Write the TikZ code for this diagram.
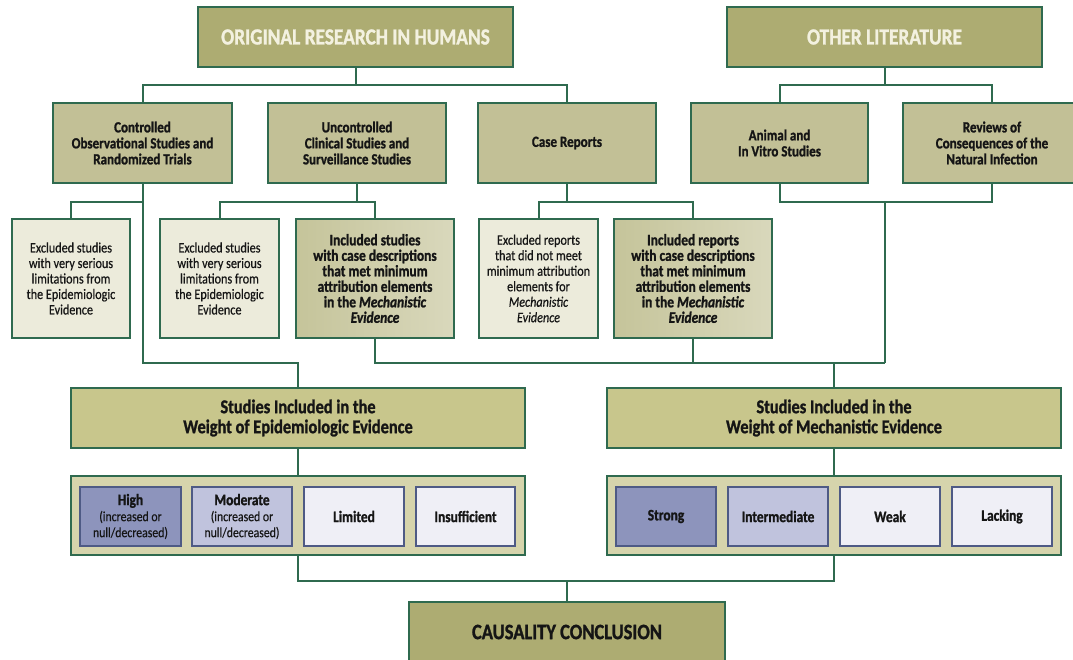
\documentclass[tikz,border=0pt]{standalone}
\usepackage{fontspec}
\setmainfont[FakeStretch=0.84, FakeBold=0.5, BoldFeatures={FakeBold=1.2}, BoldItalicFeatures={FakeBold=1.2}]{Carlito}
\definecolor{bd}{HTML}{2F6A4F}
\definecolor{ibd}{HTML}{4E5A85}
\definecolor{txt}{HTML}{151515}
\definecolor{hdrfill}{HTML}{ADAC72}
\definecolor{rowfill}{HTML}{C2C096}
\definecolor{wfill}{HTML}{C8C68C}
\definecolor{bandfill}{HTML}{D6D4AC}
\definecolor{exfill}{HTML}{ECEBDB}
\definecolor{inL}{HTML}{C5C49A}
\definecolor{inR}{HTML}{D9D8BC}
\definecolor{lvA}{HTML}{8D94BC}
\definecolor{lvB}{HTML}{C0C3DD}
\definecolor{lvC}{HTML}{EFEFF6}
\definecolor{hdtext}{HTML}{F3F1E0}
\newcommand\subtxt{\fontsize{14}{16}\selectfont\mdseries}
\begin{document}
\begin{tikzpicture}[x=1pt,y=-1pt,
  box/.style={draw=bd, line width=2.4pt, inner sep=0pt, align=center, text=txt},
  hdr/.style={box, fill=hdrfill, text=hdtext, minimum width=315pt, minimum height=60pt,
    font=\fontsize{23}{25}\selectfont\bfseries},
  rowbox/.style={box, fill=rowfill, minimum height=80pt,
    font=\fontsize{15.5}{16}\selectfont\bfseries},
  exbox/.style={box, fill=exfill, minimum width=119pt, minimum height=119pt,
    font=\fontsize{14.5}{15.5}\selectfont},
  inbox/.style={box, left color=inL, right color=inR, minimum width=158pt, minimum height=119pt,
    font=\fontsize{16}{15.5}\selectfont\bfseries},
  wbox/.style={box, fill=wfill, minimum width=454pt, minimum height=60pt,
    font=\fontsize{19.5}{20}\selectfont\bfseries},
  band/.style={box, fill=bandfill, minimum width=454pt, minimum height=79pt},
  lvbox/.style={draw=ibd, line width=2pt, inner sep=0pt, align=center, text=txt,
    minimum width=100pt, minimum height=59pt, font=\fontsize{16}{16}\selectfont\bfseries},
  conn/.style={draw=bd, line width=2pt}
]
\useasboundingbox (0,0) rectangle (1073,659);
\fill[white] (0,0) rectangle (1073,659);
\clip (0,0) rectangle (1073,659);

% level coordinates
\coordinate (L1) at (0,85);
\coordinate (L2) at (0,202);
\coordinate (L3) at (0,363);
\coordinate (L4) at (0,581);
\coordinate (jr) at (885,202);

% top
\node[hdr] (orh) at (355.5,37) {ORIGINAL RESEARCH IN HUMANS};
\node[hdr] (ol) at (884.5,37) {OTHER LITERATURE};

% row 2
\node[rowbox, minimum width=179pt] (ctrl) at (142.5,143) {Controlled\\Observational Studies and\\Randomized Trials};
\node[rowbox, minimum width=178pt] (unc) at (357,143) {Uncontrolled\\Clinical Studies and\\Surveillance Studies};
\node[rowbox, minimum width=178pt] (case) at (567,143) {Case Reports};
\node[rowbox, minimum width=177pt] (anim) at (779.5,143) {Animal and\\In Vitro Studies};
\node[rowbox, minimum width=178pt] (rev) at (992,143) {Reviews of\\Consequences of the\\Natural Infection};

% row 3
\node[exbox, minimum width=118pt] (ex1) at (71,278.5) {Excluded studies\\with very serious\\limitations from\\the Epidemiologic\\Evidence};
\node[exbox] (ex2) at (219.5,278.5) {Excluded studies\\with very serious\\limitations from\\the Epidemiologic\\Evidence};
\node[inbox] (in1) at (375,278.5) {Included studies\\with case descriptions\\that met minimum\\attribution elements\\in the \textit{Mechanistic}\\\textit{Evidence}};
\node[exbox] (ex3) at (538.5,278.5) {Excluded reports\\that did not meet\\minimum attribution\\elements for\\\textit{Mechanistic}\\\textit{Evidence}};
\node[inbox] (in2) at (693,278.5) {Included reports\\with case descriptions\\that met minimum\\attribution elements\\in the \textit{Mechanistic}\\\textit{Evidence}};

% weight headers
\node[wbox] (epi) at (298,418) {Studies Included in the\\Weight of Epidemiologic Evidence};
\node[wbox] (mech) at (834,418) {Studies Included in the\\Weight of Mechanistic Evidence};

% bands
\node[band] (epiband) at (298,515.5) {};
\node[band] (mechband) at (834,515.5) {};

\node[lvbox, fill=lvA, minimum width=101pt] (high) at (130.5,516.5) {High\\{\subtxt(increased or}\\{\subtxt null/decreased)}};
\node[lvbox, fill=lvB] (mod) at (242,516.5) {Moderate\\{\subtxt(increased or}\\{\subtxt null/decreased)}};
\node[lvbox, fill=lvC] (lim) at (354,516.5) {Limited};
\node[lvbox, fill=lvC, minimum width=99pt] (insuf) at (465.5,516.5) {Insufficient};

\node[lvbox, fill=lvA] (strong) at (666,516.5) {Strong};
\node[lvbox, fill=lvB] (inter) at (778,516.5) {Intermediate};
\node[lvbox, fill=lvC] (weak) at (890,516.5) {Weak};
\node[lvbox, fill=lvC] (lack) at (1002,516.5) {Lacking};

% conclusion
\node[box, fill=hdrfill, minimum width=316pt, minimum height=60pt,
  font=\fontsize{22}{24}\selectfont\bfseries] (caus) at (567,632) {CAUSALITY CONCLUSION};

% connectors
\draw[conn] (orh.south) -- (orh.south |- L1);
\draw[conn] (ctrl.north) -- (ctrl.north |- L1) -- (case.north |- L1) -- (case.north);
\draw[conn] (ol.south) -- (ol.south |- L1);
\draw[conn] (anim.north) |- (rev.north |- L1) -- (rev.north);

\draw[conn] (ctrl.south) -- (ctrl.south |- L3) -| (epi.north);
\draw[conn] (ex1.north) |- (ctrl.south |- L2);
\draw[conn] (unc.south) -- (unc.south |- L2);
\draw[conn] (ex2.north) |- (in1.north |- L2) -- (in1.north);
\draw[conn] (case.south) -- (case.south |- L2);
\draw[conn] (ex3.north) |- (in2.north |- L2) -- (in2.north);
\draw[conn] (anim.south) |- (rev.south |- L2) -- (rev.south);
\draw[conn] (jr) -- (jr |- L3);

\draw[conn] (in1.south) |- (jr |- L3);
\draw[conn] (in2.south) -- (in2.south |- L3);
\draw[conn] (mech.north) -- (mech.north |- L3);

\draw[conn] (epi.south) -- (epiband.north);
\draw[conn] (mech.south) -- (mechband.north);
\draw[conn] (epiband.south) |- (caus.north |- L4) -- (caus.north);
\draw[conn] (mechband.south) |- (caus.north |- L4);
\end{tikzpicture}
\end{document}
